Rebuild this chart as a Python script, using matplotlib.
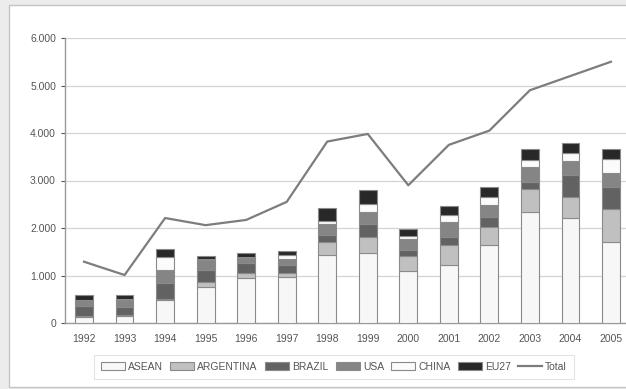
import numpy as np
from matplotlib import pyplot as plt
from matplotlib.patches import Rectangle
from matplotlib.ticker import FuncFormatter

years = ['1992', '1993', '1994', '1995', '1996', '1997', '1998',
         '1999', '2000', '2001', '2002', '2003', '2004', '2005']

asean = [130, 140, 480, 760, 950, 970, 1430, 1480, 1100, 1220, 1640, 2345, 2215, 1710]
argentina = [20, 20, 30, 110, 110, 80, 280, 335, 310, 420, 390, 470, 445, 685]
brazil = [200, 180, 330, 250, 200, 170, 140, 265, 125, 175, 210, 160, 455, 475]
usa = [130, 150, 270, 200, 110, 130, 230, 265, 225, 320, 245, 300, 300, 295]
china = [10, 20, 290, 20, 20, 80, 70, 160, 70, 140, 175, 155, 170, 280]
eu27 = [90, 70, 150, 80, 80, 90, 265, 295, 150, 185, 210, 225, 210, 210]
total = [1290, 1010, 2210, 2060, 2170, 2550, 3820, 3980, 2900, 3750, 4050, 4900, 5200, 5500]

series = [('ASEAN', asean, '#f7f7f7'),
          ('ARGENTINA', argentina, '#c0c0c0'),
          ('BRAZIL', brazil, '#626262'),
          ('USA', usa, '#858585'),
          ('CHINA', china, '#fbfbfb'),
          ('EU27', eu27, '#282828')]

plt.rcParams['font.family'] = ['Liberation Sans', 'DejaVu Sans']

fig = plt.figure(figsize=(6.26, 3.89), dpi=100, facecolor='#ececec')
# white panel with a thin frame, kept behind the axes
fig.patches.append(Rectangle((9 / 626, 2 / 389), 1.0, 382 / 389,
                             transform=fig.transFigure, facecolor='white',
                             edgecolor='#c4c4c4', linewidth=1.0, zorder=-5))

ax = fig.add_axes([65 / 626, 1 - 323 / 389, 565 / 626, 285 / 389])
ax.set_facecolor('none')

x = np.arange(len(years))
bottom = np.zeros(len(years))
handles = []
for name, vals, col in series:
    b = ax.bar(x, vals, width=0.44, bottom=bottom, color=col, edgecolor='#8a8a8a',
               linewidth=0.8, label=name, zorder=3)
    handles.append(b)
    bottom += np.array(vals)

line, = ax.plot(x, total, color='#7d7d7d', linewidth=1.6, label='Total', zorder=4)
handles.append(line)

ax.set_xlim(-0.47, len(years) - 0.53)
ax.set_ylim(0, 6000)
ax.set_yticks(np.arange(0, 6001, 1000))
ax.yaxis.set_major_formatter(FuncFormatter(lambda v, p: '0' if v == 0 else f'{int(v):,}'.replace(',', '.')))
ax.set_xticks(x)
ax.set_xticklabels(years)
ax.grid(axis='y', color='#d4d4d4', linewidth=0.9, zorder=0)
ax.tick_params(axis='both', labelsize=7.5, colors='#555555', length=3, width=0.8)
ax.tick_params(axis='x', length=0, pad=8)
for s in ['top', 'right']:
    ax.spines[s].set_visible(False)
for s in ['left', 'bottom']:
    ax.spines[s].set_color('#9a9a9a')
    ax.spines[s].set_linewidth(1.0)

leg = fig.legend(handles=handles, loc='center', bbox_to_anchor=(334 / 626, 1 - 367 / 389),
                 ncol=7, fontsize=7.5, frameon=True, handlelength=2.3, handleheight=0.8,
                 handletextpad=0.3, columnspacing=0.7, borderpad=0.35)
leg.get_frame().set_edgecolor('#dcdcdc')
leg.get_frame().set_linewidth(0.8)
leg.get_frame().set_boxstyle('square')
for t in leg.get_texts():
    t.set_color('#555555')

fig.savefig('out.png', dpi=100, facecolor=fig.get_facecolor())
